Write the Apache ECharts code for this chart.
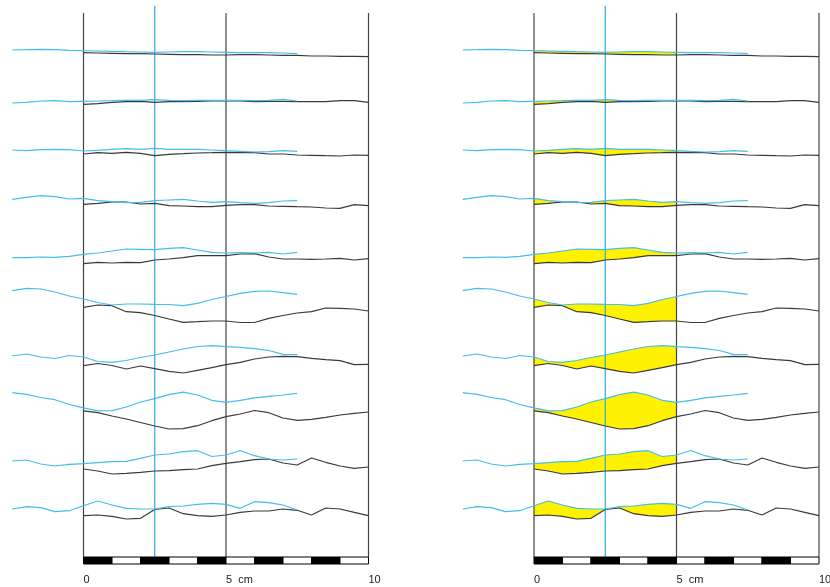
<!DOCTYPE html>
<html>
<head>
<meta charset="utf-8">
<script src="https://cdn.jsdelivr.net/npm/echarts@6/dist/echarts.min.js"></script>
<style>
  html, body { margin: 0; padding: 0; background: #fff; }
  #chart { width: 830px; height: 587px; }
</style>
</head>
<body>
<div id="chart"></div>
<script>
// profiles sampled every 0.5 cm; blue runs from -2.5 cm, black from 0 cm
// y values are depth read off the figure (down = larger)
const step = 0.5;
const blueStart = -2.5;
const blackStart = 0;

const blueLines = [
  [50.0, 49.7, 49.3, 49.7, 50.3, 50.7, 51, 51.3, 51.7, 52, 52.3, 52, 51.7, 51.7, 52, 52.3, 52.7, 52.7, 52.7, 53, 53.7],
  [103, 102.3, 101, 100.7, 101.7, 101.3, 101, 100.7, 100.3, 100.3, 99.7, 100.3, 100.7, 100.3, 100.3, 100.3, 100.3, 100.7, 100.3, 99.3, 101],
  [150, 150.7, 149.7, 149.3, 149.7, 151, 150.3, 149.3, 148.7, 149.3, 148.3, 149.3, 149.3, 149.3, 150, 150.7, 151.3, 152, 151.7, 150.7, 151.3],
  [199.3, 197.3, 195.7, 196.7, 199, 198.3, 200.7, 201.7, 202.7, 202.3, 200.7, 200, 199.3, 201, 202.3, 201.7, 202.7, 203.3, 202.7, 201, 200.7],
  [257.7, 257.7, 257, 257.3, 256.3, 254.3, 253, 251, 249, 249.3, 249.7, 248.3, 247.7, 250, 252.3, 253, 252.7, 253, 252.3, 254, 252.3],
  [290.7, 288.3, 289, 292, 296, 299, 302.5, 305, 304, 304, 304.3, 304.5, 305.7, 303.3, 299.5, 296.5, 293.3, 291.3, 291, 292.7, 294.3],
  [356, 354, 357, 358.5, 355.5, 357, 361.5, 362.3, 360.5, 357.5, 355, 352, 349, 346.5, 345.7, 346.7, 347.3, 348.7, 350.5, 354.3, 354.7],
  [392.7, 394.3, 397.5, 399.7, 404.5, 407.8, 410.8, 410.7, 407, 402, 398.7, 394.7, 392.2, 395, 400.3, 402.3, 400.3, 397.8, 396.3, 395, 393.3],
  [461, 460, 464, 466, 464.3, 463.7, 462.7, 461.7, 461.3, 458.3, 455, 454, 451.7, 450.7, 456.5, 455, 450.5, 455.7, 459, 460, 459],
  [509, 506.7, 507.7, 511.7, 510.7, 505.7, 501, 505, 508.3, 509, 509, 506.7, 506, 504.3, 503.3, 504.3, 508.3, 501.7, 502.7, 505, 510]
];

const blackLines = [
  [52.7, 53, 53.3, 53.7, 53.7, 54, 54.3, 54.7, 54.7, 55, 55, 54.7, 54.7, 55, 55.3, 55.3, 56, 56, 56.3, 56.3, 56.7],
  [104.3, 103.7, 102.3, 101.7, 101.3, 102.3, 101.7, 101.7, 101.3, 101, 100.7, 101, 101.7, 101.3, 101.3, 101.7, 101.7, 101.7, 100.7, 100.7, 102.3],
  [154, 152.7, 153.3, 152.3, 153.3, 155.7, 154.3, 153.7, 153, 152.7, 152.3, 152.7, 152.7, 154, 154, 155, 155.3, 155.7, 156, 155, 155.3],
  [204.3, 203.3, 202, 202, 204, 203.3, 205.7, 206, 206.7, 206.7, 205.3, 204.7, 204.7, 206, 206.3, 206.7, 207, 208, 208.3, 204.7, 205.7],
  [263.7, 262.3, 263, 262.3, 262.7, 260, 259, 257.7, 255.7, 255.7, 255.7, 254, 253.7, 257, 259, 259, 259.3, 259, 258.3, 260, 258.7],
  [307.3, 305, 305.7, 311.7, 312.7, 315.5, 319, 322.3, 321.7, 321, 321, 322.5, 322.5, 318.3, 315.5, 313, 311.7, 308, 308.3, 309, 311],
  [365.7, 363.5, 365.5, 369, 366, 368.7, 371.3, 373, 370.3, 367.7, 364.7, 362.3, 359, 357, 356.3, 356.7, 358.3, 359.7, 360.7, 364.7, 364.3],
  [410.8, 412.7, 416, 419, 422.5, 426, 429, 428.7, 425.7, 420.7, 416.7, 414, 410.5, 412.7, 418, 420.3, 419.3, 417.3, 415, 413.3, 412],
  [469, 471, 474, 473.3, 472.3, 471, 470.7, 469.7, 469, 465.7, 463.3, 461.7, 459.7, 459, 463, 465, 458, 462.3, 466, 468.3, 467],
  [515.7, 515, 516.3, 519, 518.3, 509.5, 508, 513.7, 515.7, 516.3, 515, 512.3, 511, 511, 509, 510.3, 515, 508, 509, 512.3, 515.7]
];

const guideX = [0, 5, 10];      // black reference lines (cm)
const markerX = 2.5;            // blue reference line (cm)
const fillRange = [0, 5];       // shaded stretch on the right panel (cm)
const scaleSegments = [0, 1, 2, 3, 4, 5, 6, 7, 8, 9];
const tickValues = [0, 5, 10];

// vertical extent of guides / scale bar, in y units
const GUIDE_TOP = 13, MARKER_TOP = 6, BAR_TOP = 557, BAR_BOTTOM = 564;

const BLUE = '#45bde9';
const MARKER_BLUE = '#2aa9e0';
const DARK = '#3a3a3a';
const YELLOW = '#fff200';

const chart = echarts.init(document.getElementById('chart'));

function toPoints(vals, start) {
  return vals.map((v, i) => [start + i * step, v]);
}

const panels = [
  { left: 12.25, fill: false },
  { left: 462.75, fill: true }
];

const grid = [], xAxis = [], yAxis = [], series = [];

panels.forEach((p, k) => {
  grid.push({ left: p.left, width: 356.25, top: 0, height: BAR_BOTTOM, outerBoundsMode: 'none' });
  xAxis.push({
    gridIndex: k, type: 'value', min: -2.5, max: 10,
    axisLine: { show: false }, axisTick: { show: false }, splitLine: { show: false },
    axisLabel: {
      customValues: tickValues, margin: 10, align: 'left', verticalAlign: 'top',
      fontFamily: 'Liberation Sans, Arial, sans-serif', fontSize: 11, color: '#222',
      formatter: v => v === 5 ? '5  cm' : String(v)
    }
  });
  yAxis.push({ gridIndex: k, type: 'value', min: 0, max: BAR_BOTTOM, inverse: true, show: false });

  if (p.fill) {
    series.push({
      type: 'custom', xAxisIndex: k, yAxisIndex: k, z: 1, silent: true,
      data: blueLines.map((_, i) => [i, 0]),
      renderItem: (params, api) => {
        const idx = params.dataIndex;
        const upper = [], lower = [];
        for (let x = fillRange[0]; x <= fillRange[1] + 1e-9; x += step) {
          const bi = Math.round((x - blueStart) / step);
          const ki = Math.round((x - blackStart) / step);
          upper.push(api.coord([x, blueLines[idx][bi]]));
          lower.unshift(api.coord([x, blackLines[idx][ki]]));
        }
        return { type: 'polygon', shape: { points: upper.concat(lower) }, style: { fill: YELLOW, stroke: null } };
      }
    });
  }

  // reference verticals
  series.push({
    type: 'custom', xAxisIndex: k, yAxisIndex: k, z: 2, silent: true,
    data: guideX.map(x => [x, 0, 0]).concat([[markerX, 0, 1]]),
    renderItem: (params, api) => {
      const x = api.value(0);
      const isMarker = api.value(2) === 1;
      const a = api.coord([x, isMarker ? MARKER_TOP : GUIDE_TOP]);
      const b = api.coord([x, BAR_TOP]);
      return {
        type: 'line',
        shape: { x1: a[0], y1: a[1], x2: b[0], y2: b[1] },
        style: { stroke: isMarker ? MARKER_BLUE : '#444', lineWidth: 1.2 }
      };
    }
  });

  // scale bar
  series.push({
    type: 'custom', xAxisIndex: k, yAxisIndex: k, z: 2, silent: true,
    data: scaleSegments.map(i => [i, i + 1]),
    renderItem: (params, api) => {
      const a = api.coord([api.value(0), BAR_TOP]);
      const b = api.coord([api.value(1), BAR_BOTTOM]);
      return {
        type: 'rect',
        shape: { x: a[0], y: a[1], width: b[0] - a[0], height: b[1] - a[1] },
        style: { fill: params.dataIndex % 2 === 0 ? '#000' : '#fff', stroke: '#000', lineWidth: 1 }
      };
    }
  });

  blackLines.forEach(vals => {
    series.push({
      type: 'line', xAxisIndex: k, yAxisIndex: k, z: 3, silent: true,
      data: toPoints(vals, blackStart), showSymbol: false, symbol: 'none',
      lineStyle: { color: DARK, width: 1.2 }
    });
  });
  blueLines.forEach(vals => {
    series.push({
      type: 'line', xAxisIndex: k, yAxisIndex: k, z: 4, silent: true,
      data: toPoints(vals, blueStart), showSymbol: false, symbol: 'none',
      lineStyle: { color: BLUE, width: 1.2 }
    });
  });
});

chart.setOption({
  animation: false,
  backgroundColor: '#fff',
  grid, xAxis, yAxis, series
});
</script>
</body>
</html>
